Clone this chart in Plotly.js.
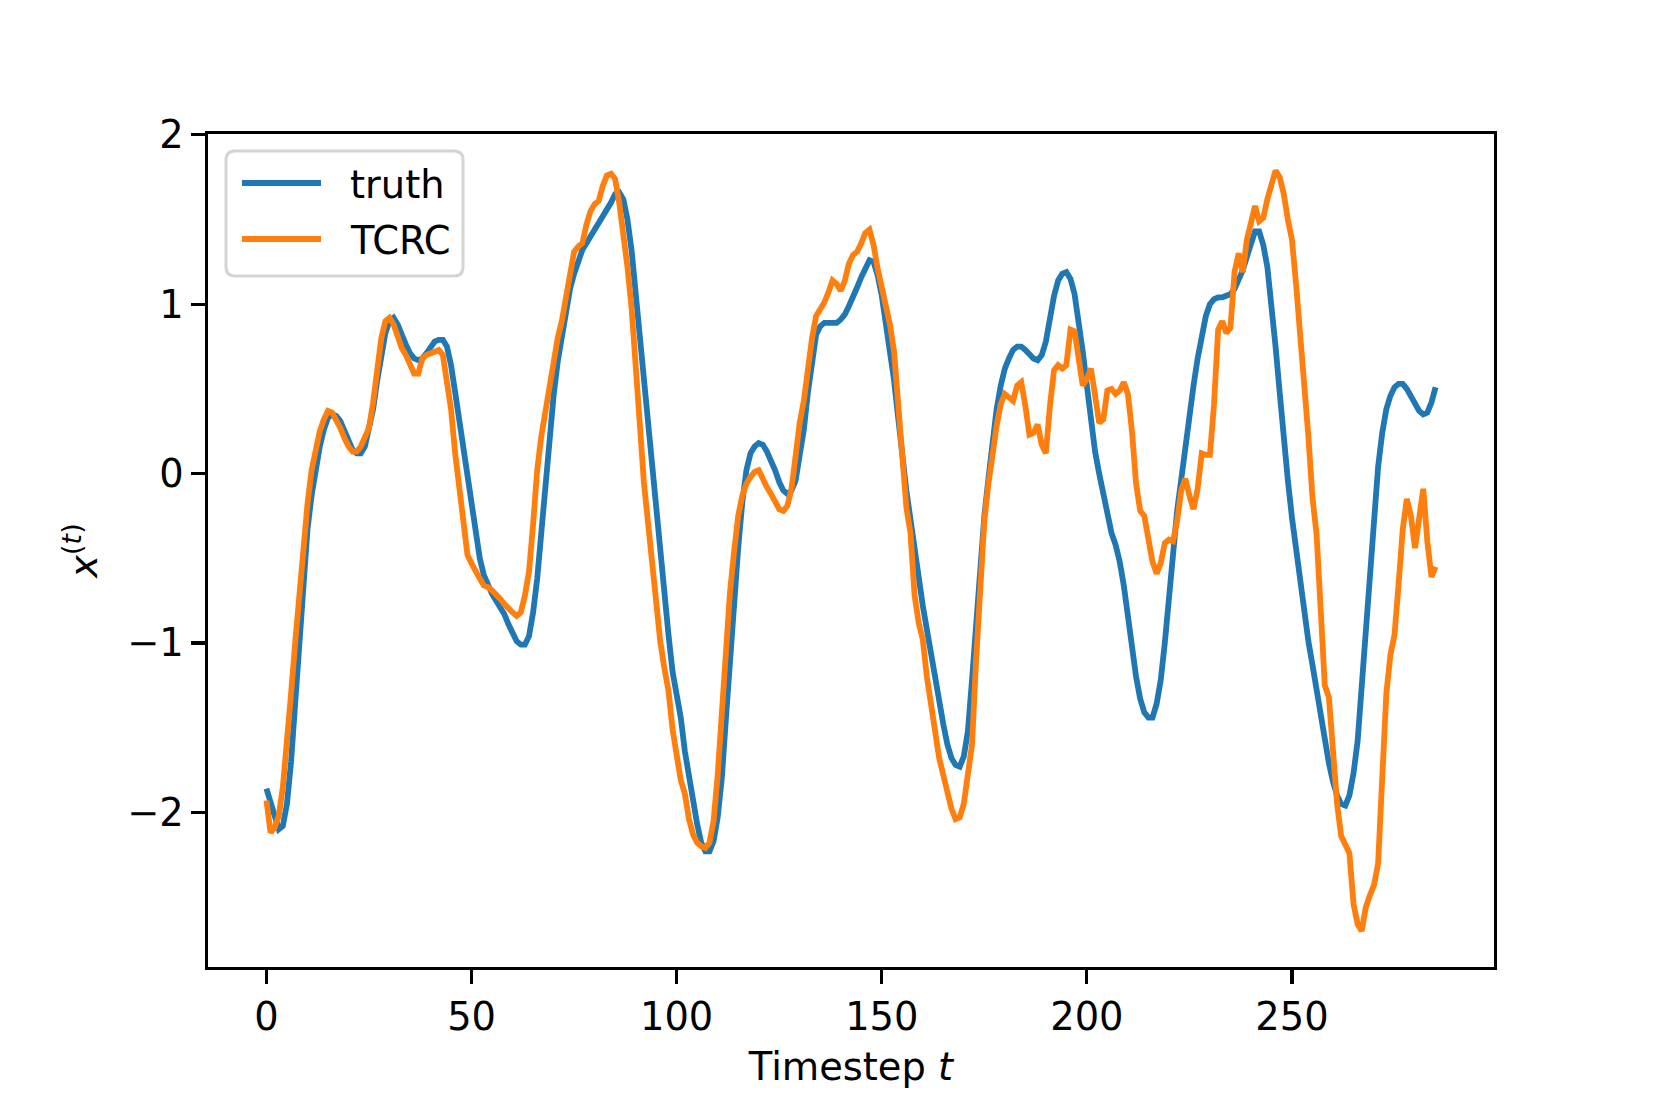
<!DOCTYPE html>
<html>
<head>
<meta charset="utf-8">
<script src="https://cdn.plot.ly/plotly-3.0.1.min.js"></script>
<style>
  html, body { margin: 0; padding: 0; background: #ffffff; }
  #chart { width: 1661px; height: 1107px; }
</style>
</head>
<body>
<div id="chart"></div>
<script>
// ---- Data ----
const seriesNames = ["truth", "TCRC"];
const seriesColors = ["#1f77b4", "#ff7f0e"];
const xTickValues = [0, 50, 100, 150, 200, 250];
const yTickValues = [-2, -1, 0, 1, 2];

const truth = [
  -1.86, -1.95, -2.03, -2.10, -2.08, -1.95, -1.70, -1.35, -0.92, -0.58,
  -0.33, -0.13, 0.03, 0.16, 0.26, 0.33, 0.35, 0.34, 0.31, 0.25,
  0.19, 0.14, 0.12, 0.12, 0.16, 0.26, 0.38, 0.55, 0.70, 0.83,
  0.90, 0.92, 0.88, 0.81, 0.76, 0.71, 0.68, 0.67, 0.68, 0.71,
  0.75, 0.78, 0.79, 0.79, 0.75, 0.64, 0.48, 0.32, 0.15, -0.03,
  -0.18, -0.35, -0.50, -0.60, -0.66, -0.71, -0.75, -0.79, -0.83, -0.89,
  -0.95, -0.99, -1.01, -1.01, -0.96, -0.82, -0.62, -0.34, -0.05, 0.22,
  0.46, 0.66, 0.82, 0.96, 1.09, 1.18, 1.26, 1.32, 1.36, 1.40,
  1.44, 1.47, 1.51, 1.55, 1.60, 1.65, 1.66, 1.62, 1.50, 1.32,
  1.06, 0.82, 0.56, 0.30, 0.04, -0.22, -0.46, -0.71, -0.95, -1.17,
  -1.30, -1.44, -1.64, -1.80, -1.95, -2.07, -2.18, -2.23, -2.23, -2.17,
  -2.03, -1.80, -1.45, -1.08, -0.74, -0.44, -0.17, 0.02, 0.12, 0.16,
  0.18, 0.17, 0.13, 0.08, 0.02, -0.05, -0.10, -0.12, -0.10, -0.04,
  0.10, 0.26, 0.48, 0.68, 0.82, 0.87, 0.89, 0.89, 0.89, 0.89,
  0.91, 0.94, 0.99, 1.04, 1.10, 1.16, 1.22, 1.26, 1.25, 1.17,
  1.05, 0.90, 0.70, 0.55, 0.33, 0.10, -0.10, -0.27, -0.45, -0.62,
  -0.78, -0.92, -1.07, -1.22, -1.35, -1.48, -1.60, -1.68, -1.72, -1.73,
  -1.67, -1.52, -1.22, -0.90, -0.55, -0.25, -0.03, 0.18, 0.38, 0.52,
  0.62, 0.68, 0.73, 0.75, 0.75, 0.73, 0.70, 0.68, 0.67, 0.70,
  0.78, 0.93, 1.05, 1.14, 1.18, 1.19, 1.15, 1.06, 0.90, 0.72,
  0.52, 0.30, 0.13, 0.00, -0.12, -0.22, -0.35, -0.42, -0.52, -0.66,
  -0.86, -1.03, -1.20, -1.33, -1.41, -1.44, -1.44, -1.36, -1.22, -1.00,
  -0.77, -0.48, -0.22, -0.02, 0.15, 0.36, 0.52, 0.68, 0.82, 0.93,
  1.00, 1.03, 1.04, 1.04, 1.05, 1.06, 1.09, 1.14, 1.20, 1.28,
  1.37, 1.43, 1.43, 1.35, 1.22, 1.02, 0.75, 0.48, 0.20, -0.04,
  -0.26, -0.46, -0.65, -0.82, -0.99, -1.13, -1.28, -1.44, -1.57, -1.71,
  -1.82, -1.90, -1.95, -1.96, -1.90, -1.77, -1.58, -1.26, -0.90, -0.52,
  -0.22, 0.04, 0.24, 0.38, 0.46, 0.51, 0.53, 0.53, 0.50, 0.46,
  0.41, 0.37, 0.35, 0.36, 0.42, 0.51
];

const tcrc = [
  -1.93, -2.12, -2.09, -2.02, -1.85, -1.60, -1.30, -1.00, -0.70, -0.41,
  -0.18, 0.02, 0.14, 0.25, 0.32, 0.37, 0.36, 0.32, 0.27, 0.21,
  0.16, 0.13, 0.13, 0.16, 0.22, 0.27, 0.42, 0.62, 0.80, 0.90,
  0.92, 0.88, 0.80, 0.74, 0.70, 0.64, 0.59, 0.59, 0.68, 0.70,
  0.71, 0.72, 0.73, 0.70, 0.55, 0.38, 0.12, -0.10, -0.33, -0.48,
  -0.53, -0.58, -0.62, -0.66, -0.67, -0.69, -0.71, -0.74, -0.77, -0.80,
  -0.82, -0.84, -0.82, -0.72, -0.58, -0.30, 0.02, 0.22, 0.37, 0.50,
  0.67, 0.80, 0.90, 1.03, 1.20, 1.31, 1.34, 1.36, 1.47, 1.55,
  1.59, 1.61, 1.70, 1.76, 1.77, 1.74, 1.60, 1.42, 1.22, 0.98,
  0.68, 0.30, -0.05, -0.30, -0.52, -0.76, -0.99, -1.15, -1.28, -1.51,
  -1.69, -1.81, -1.89, -2.04, -2.13, -2.18, -2.20, -2.21, -2.18, -2.05,
  -1.78, -1.38, -1.00, -0.70, -0.46, -0.25, -0.13, -0.06, -0.02, 0.01,
  0.02, -0.04, -0.08, -0.12, -0.16, -0.21, -0.22, -0.19, -0.09, 0.12,
  0.30, 0.43, 0.62, 0.80, 0.93, 0.97, 1.01, 1.07, 1.14, 1.12,
  1.08, 1.14, 1.24, 1.29, 1.31, 1.36, 1.42, 1.44, 1.35, 1.21,
  1.10, 1.00, 0.88, 0.72, 0.38, 0.02, -0.20, -0.35, -0.72, -0.88,
  -0.98, -1.20, -1.38, -1.56, -1.68, -1.78, -1.88, -1.98, -2.04, -2.03,
  -1.95, -1.80, -1.60, -1.10, -0.62, -0.28, -0.06, 0.12, 0.28, 0.41,
  0.47, 0.45, 0.43, 0.52, 0.54, 0.40, 0.23, 0.24, 0.29, 0.17,
  0.12, 0.40, 0.61, 0.64, 0.62, 0.64, 0.85, 0.84, 0.67, 0.52,
  0.56, 0.62, 0.46, 0.30, 0.32, 0.49, 0.50, 0.47, 0.49, 0.54,
  0.47, 0.25, -0.06, -0.22, -0.25, -0.40, -0.52, -0.59, -0.53, -0.41,
  -0.39, -0.40, -0.28, -0.10, -0.03, -0.13, -0.21, -0.09, 0.12, 0.11,
  0.11, 0.41, 0.85, 0.90, 0.83, 0.86, 1.19, 1.30, 1.19, 1.38,
  1.50, 1.58, 1.49, 1.51, 1.62, 1.72, 1.79, 1.75, 1.65, 1.50,
  1.38, 1.12, 0.84, 0.54, 0.22, -0.14, -0.36, -0.80, -1.25, -1.32,
  -1.62, -1.95, -2.14, -2.19, -2.24, -2.54, -2.66, -2.70, -2.56, -2.49,
  -2.43, -2.30, -1.85, -1.30, -1.07, -0.95, -0.65, -0.33, -0.15, -0.25,
  -0.44, -0.26, -0.09, -0.40, -0.61, -0.55
];

const timesteps = truth.map((_, i) => i);

const FONT = "DejaVu Sans";
const FS = 38.4;

// ---- Traces ----
const traces = [truth, tcrc].map((ys, k) => ({
  type: "scatter",
  mode: "lines",
  name: seriesNames[k],
  x: timesteps,
  y: ys,
  line: { color: seriesColors[k], width: 5.8 },
  showlegend: false,
  hoverinfo: "skip"
}));

// ---- Legend (matplotlib-style box, built from names/colours) ----
const plotL = 208, plotR = 1661 - 167, plotT = 134, plotB = 1107 - 140;
const px2x = p => (p - plotL) / (plotR - plotL);
const px2y = p => (plotB - p) / (plotB - plotT);

const box = { x0: 226, x1: 463, y0: 151, y1: 276, r: 9 };
function roundedRectPath(b) {
  const X = px2x, Y = px2y;
  return `M ${X(b.x0 + b.r)},${Y(b.y0)} L ${X(b.x1 - b.r)},${Y(b.y0)} ` +
    `Q ${X(b.x1)},${Y(b.y0)} ${X(b.x1)},${Y(b.y0 + b.r)} ` +
    `L ${X(b.x1)},${Y(b.y1 - b.r)} Q ${X(b.x1)},${Y(b.y1)} ${X(b.x1 - b.r)},${Y(b.y1)} ` +
    `L ${X(b.x0 + b.r)},${Y(b.y1)} Q ${X(b.x0)},${Y(b.y1)} ${X(b.x0)},${Y(b.y1 - b.r)} ` +
    `L ${X(b.x0)},${Y(b.y0 + b.r)} Q ${X(b.x0)},${Y(b.y0)} ${X(b.x0 + b.r)},${Y(b.y0)} Z`;
}
const rowY = [183, 239];
const shapes = [{
  type: "path", xref: "paper", yref: "paper",
  path: roundedRectPath(box),
  fillcolor: "rgba(255,255,255,0.8)",
  line: { color: "#d4d4d4", width: 3 },
  layer: "above"
}];
const annotations = [];
seriesNames.forEach((nm, k) => {
  shapes.push({
    type: "line", xref: "paper", yref: "paper",
    x0: px2x(242), x1: px2x(321), y0: px2y(rowY[k]), y1: px2y(rowY[k]),
    line: { color: seriesColors[k], width: 5.8 },
    layer: "above"
  });
  annotations.push({
    xref: "paper", yref: "paper",
    x: px2x(348), y: px2y(rowY[k] + 1),
    xanchor: "left", yanchor: "middle",
    text: nm, showarrow: false,
    font: { family: FONT, size: FS, color: "#000000" }
  });
});

const axisCommon = {
  showgrid: false,
  zeroline: false,
  showline: true,
  mirror: true,
  linecolor: "#000000",
  linewidth: 3.1,
  ticks: "outside",
  ticklen: 13.5,
  tickwidth: 3.1,
  tickcolor: "#000000",
  tickfont: { family: FONT, size: FS, color: "#000000" }
};

const layout = {
  width: 1661,
  height: 1107,
  paper_bgcolor: "#ffffff",
  plot_bgcolor: "#ffffff",
  margin: { l: plotL, r: 167, t: plotT, b: 140, pad: 0 },
  font: { family: FONT, size: FS, color: "#000000" },
  showlegend: false,
  xaxis: Object.assign({}, axisCommon, {
    range: [-14.25, 299.25],
    tickmode: "array",
    tickvals: xTickValues,
    ticktext: xTickValues.map(String),
    title: { text: "Timestep <i>t</i>", font: { family: FONT, size: FS, color: "#000000" }, standoff: 16 }
  }),
  yaxis: Object.assign({}, axisCommon, {
    range: [-2.913, 2.005],
    tickmode: "array",
    tickvals: yTickValues,
    ticktext: yTickValues.map(v => v < 0 ? "\u2212" + Math.abs(v) : String(v)),
    title: { text: "<i>x</i><sup>(<i>t</i>)</sup>", font: { family: FONT, size: FS, color: "#000000" }, standoff: 18 }
  }),
  shapes: shapes,
  annotations: annotations
};

Plotly.newPlot("chart", traces, layout, { displayModeBar: false, staticPlot: true });
</script>
</body>
</html>
